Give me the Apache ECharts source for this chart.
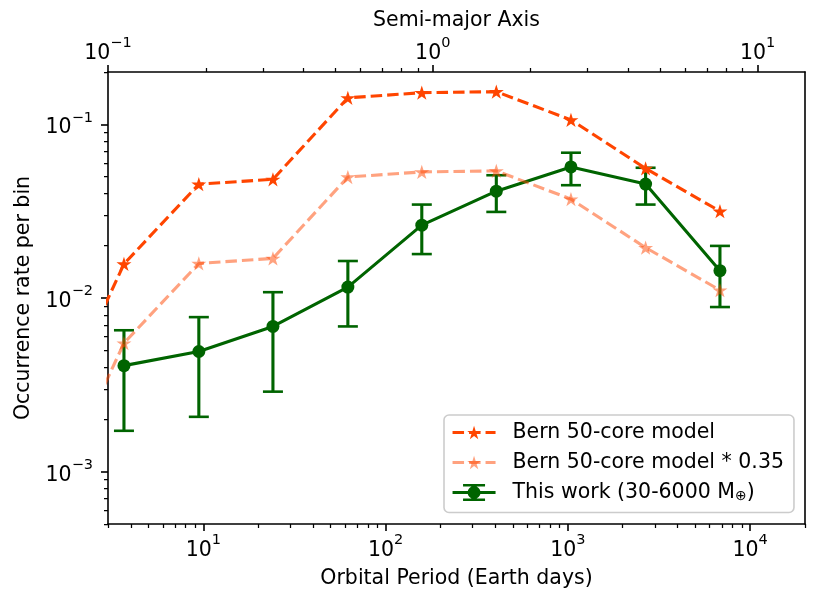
<!DOCTYPE html>
<html><head><meta charset="utf-8">
<script src="https://cdn.jsdelivr.net/npm/echarts@6/dist/echarts.min.js"></script>
<style>html,body{margin:0;padding:0;background:#fff}#c{width:828px;height:606px}</style>
</head><body><div id="c"></div>
<script>
// ---- data ----
const periods = [3.67, 9.45, 24.1, 62.1, 158, 405, 1040, 2670, 6830];
const bernPeriods = [1.43, 3.67, 9.45, 24.1, 62.1, 158, 405, 1040, 2670, 6830];
const bern = [0.00185, 0.0157, 0.0452, 0.0482, 0.142, 0.152, 0.154, 0.106, 0.0557, 0.0316];
const bernScaled = [0.00065, 0.0055, 0.0158, 0.0169, 0.0497, 0.0532, 0.0539, 0.0371, 0.0195, 0.0111];
const thisWork = [0.00408, 0.00492, 0.00686, 0.01156, 0.02626, 0.0412, 0.0568, 0.0453, 0.01436];
const thisWorkLow = [0.00172, 0.00207, 0.00289, 0.00686, 0.0179, 0.0313, 0.0446, 0.0345, 0.00887];
const thisWorkHigh = [0.00652, 0.00776, 0.0108, 0.01633, 0.0345, 0.0509, 0.0686, 0.0562, 0.01995];
const seriesNames = ['Bern 50-core model', 'Bern 50-core model * 0.35', 'This work (30-6000 M\u2295)'];

// ---- axes / ticks ----
const periodRange = [3, 20000];
const axisRange = [0.1, 14];
const rateRange = [0.0005, 0.2];
const periodMajorTicks = [10, 100, 1000, 10000];
const periodMinorTicks = [3,4,5,6,7,8,9,20,30,40,50,60,70,80,90,200,300,400,500,600,700,800,900,2000,3000,4000,5000,6000,7000,8000,9000,20000];
const axisMajorTicks = [0.1, 1, 10];
const axisMinorTicks = [0.2,0.3,0.4,0.5,0.6,0.7,0.8,0.9,2,3,4,5,6,7,8,9];
const rateMajorTicks = [0.001, 0.01, 0.1];
const rateMinorTicks = [0.0005,0.0006,0.0007,0.0008,0.0009,0.002,0.003,0.004,0.005,0.006,0.007,0.008,0.009,0.02,0.03,0.04,0.05,0.06,0.07,0.08,0.09,0.2];

const FONT = 'DejaVu Sans';
const FS = 20.5;
const BLACK = '#000';
const C_BERN = '#ff4500';
const C_BERN_L = 'rgba(255,69,0,0.5)';
const C_GREEN = '#006400';
const STAR = 'path://M100,0L122.45,69.1L195.1,69.1L136.3,111.8L158.8,180.9L100,138.2L41.2,180.9L63.7,111.8L4.9,69.1L77.55,69.1Z';
const ERR_ICON = 'path://M0,70H430V100H0Z M200,0H230V170H200Z M105,0H325V25H105Z M105,145H325V170H105Z M150,85A65,65 0 1,1 280,85A65,65 0 1,1 150,85Z';

function pow10Label(v) {
  const e = Math.round(Math.log10(v));
  return '{b|10}{s|' + (e < 0 ? '\u2212' + (-e) : String(e)) + '}';
}
const labelRich = {
  b: {fontSize: FS, fontFamily: FONT, color: BLACK, lineHeight: 28, verticalAlign: 'bottom'},
  s: {fontSize: 14.5, fontFamily: FONT, color: BLACK, lineHeight: 16, verticalAlign: 'top'}
};
const nameStyle = {fontSize: FS, fontFamily: FONT, color: BLACK};

function majorAxis(extra, range, ticks, margin) {
  return Object.assign({
    type: 'log', logBase: 10, min: range[0], max: range[1],
    axisLine: {show: true, lineStyle: {color: BLACK, width: 1.6}},
    axisTick: {show: true, customValues: ticks, length: 7, lineStyle: {color: BLACK, width: 1.6}},
    axisLabel: {show: true, customValues: ticks, margin: margin, formatter: pow10Label, rich: labelRich},
    splitLine: {show: false}, minorTick: {show: false}, minorSplitLine: {show: false}
  }, extra);
}
function minorAxis(extra, range, ticks) {
  return Object.assign({
    type: 'log', logBase: 10, min: range[0], max: range[1],
    axisLine: {show: false},
    axisTick: {show: true, customValues: ticks, length: 4, lineStyle: {color: BLACK, width: 1.25}},
    axisLabel: {show: false},
    splitLine: {show: false}
  }, extra);
}

const chart = echarts.init(document.getElementById('c'), null, {renderer: 'canvas'});
const option = {
  animation: false,
  backgroundColor: '#fff',
  grid: {left: 108, right: 23, top: 72, bottom: 82, containLabel: false, outerBoundsMode: 'none'},
  xAxis: [
    majorAxis({position: 'bottom', name: 'Orbital Period (Earth days)', nameLocation: 'middle', nameGap: 44, nameTextStyle: nameStyle}, periodRange, periodMajorTicks, 9),
    minorAxis({position: 'bottom'}, periodRange, periodMinorTicks),
    majorAxis({position: 'top', name: 'Semi-major Axis', nameLocation: 'middle', nameGap: 34, nameTextStyle: nameStyle}, axisRange, axisMajorTicks, 8),
    minorAxis({position: 'top'}, axisRange, axisMinorTicks)
  ],
  yAxis: [
    majorAxis({position: 'left', name: 'Occurrence rate per bin', nameLocation: 'middle', nameGap: 74, nameTextStyle: nameStyle}, rateRange, rateMajorTicks, 15),
    minorAxis({position: 'left'}, rateRange, rateMinorTicks),
    {type: 'log', position: 'right', min: rateRange[0], max: rateRange[1],
     axisLine: {show: true, lineStyle: {color: BLACK, width: 1.6}},
     axisTick: {show: false}, axisLabel: {show: false}, splitLine: {show: false}}
  ],
  legend: {
    left: 444, top: 415, orient: 'vertical',
    itemWidth: 43, itemHeight: 17, itemGap: 8,
    padding: [6.5, 10, 9, 7],
    backgroundColor: 'rgba(255,255,255,0.8)',
    borderColor: '#cccccc', borderWidth: 1.6, borderRadius: 5,
    selectedMode: false,
    lineStyle: {width: 3.1},
    textStyle: {fontSize: FS, fontFamily: FONT, color: BLACK, lineHeight: 22, padding: [0, 0, 0, 12],
      rich: {sub: {fontSize: 14, fontFamily: FONT, color: BLACK, verticalAlign: 'bottom', lineHeight: 22}}},
    formatter: function (name) { return name === seriesNames[2] ? 'This work (30-6000 M{sub|\u2295})' : name; },
    data: [
      {name: seriesNames[0]},
      {name: seriesNames[1]},
      {name: seriesNames[2], icon: ERR_ICON, itemStyle: {color: C_GREEN, borderWidth: 0}}
    ]
  },
  series: [
    {
      type: 'custom', name: 'errbars', xAxisIndex: 0, yAxisIndex: 0, silent: true, z: 2,
      data: periods.map((p, i) => [p, thisWork[i], thisWorkLow[i], thisWorkHigh[i]]),
      encode: {x: 0, y: [1, 2, 3]},
      renderItem: function (params, api) {
        const x = api.value(0);
        const lo = api.coord([x, api.value(2)]);
        const hi = api.coord([x, api.value(3)]);
        const hw = 10;
        const st = {stroke: C_GREEN, lineWidth: 3.1};
        const cst = {stroke: C_GREEN, lineWidth: 2.6};
        return {type: 'group', children: [
          {type: 'line', shape: {x1: lo[0], y1: lo[1], x2: hi[0], y2: hi[1]}, style: st},
          {type: 'line', shape: {x1: lo[0] - hw, y1: lo[1], x2: lo[0] + hw, y2: lo[1]}, style: cst},
          {type: 'line', shape: {x1: hi[0] - hw, y1: hi[1], x2: hi[0] + hw, y2: hi[1]}, style: cst}
        ]};
      }
    },
    {
      type: 'line', name: seriesNames[2], xAxisIndex: 0, yAxisIndex: 0, z: 3,
      data: periods.map((p, i) => [p, thisWork[i]]),
      symbol: 'circle', symbolSize: 13, showSymbol: true,
      lineStyle: {color: C_GREEN, width: 3.1},
      itemStyle: {color: C_GREEN, borderWidth: 0}
    },
    {
      type: 'line', name: seriesNames[0], xAxisIndex: 0, yAxisIndex: 0, z: 4,
      data: bernPeriods.map((p, i) => [p, bern[i]]),
      symbol: STAR, symbolSize: 15, symbolKeepAspect: true, showSymbol: true,
      lineStyle: {color: C_BERN, width: 3.1, type: [11.5, 5]},
      itemStyle: {color: C_BERN, borderWidth: 0}
    },
    {
      type: 'line', name: seriesNames[1], xAxisIndex: 0, yAxisIndex: 0, z: 4,
      data: bernPeriods.map((p, i) => [p, bernScaled[i]]),
      symbol: STAR, symbolSize: 15, symbolKeepAspect: true, showSymbol: true,
      lineStyle: {color: C_BERN_L, width: 3.1, type: [11.5, 5]},
      itemStyle: {color: C_BERN_L, borderWidth: 0}
    }
  ]
};
chart.setOption(option);
</script>
</body></html>
